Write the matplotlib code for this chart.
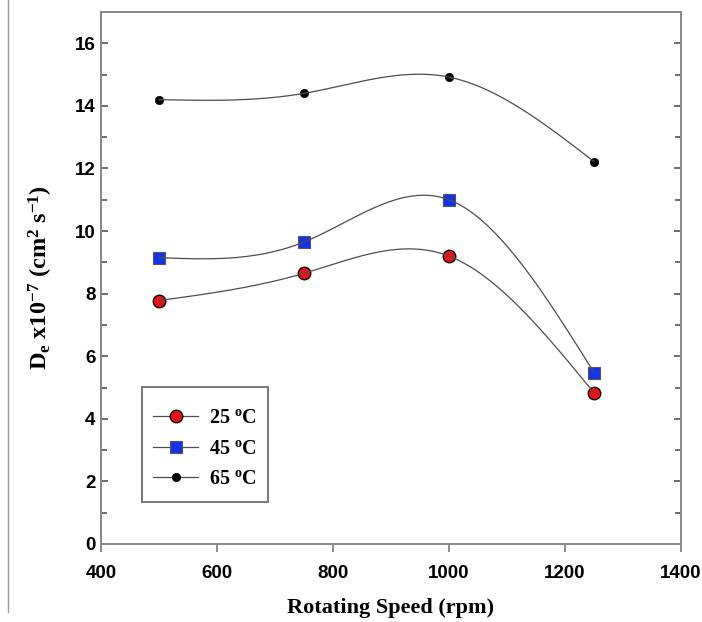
import numpy as np
import matplotlib
matplotlib.use("Agg")
import matplotlib.pyplot as plt
from matplotlib.lines import Line2D
from matplotlib.patches import Rectangle

speed = [500, 750, 1000, 1250]
de_25 = [7.78, 8.65, 9.2, 4.83]
de_45 = [9.15, 9.65, 11.0, 5.48]
de_65 = [14.2, 14.4, 14.92, 12.22]
labels = ["25 $^{\\mathregular{o}}$C", "45 $^{\\mathregular{o}}$C", "65 $^{\\mathregular{o}}$C"]
xticks = [400, 600, 800, 1000, 1200, 1400]
yticks = [0, 2, 4, 6, 8, 10, 12, 14, 16]

plt.rcParams['mathtext.fontset'] = 'custom'
plt.rcParams['mathtext.rm'] = 'Liberation Serif:bold'
plt.rcParams['mathtext.bf'] = 'Liberation Serif:bold'
plt.rcParams['mathtext.it'] = 'Liberation Serif:bold:italic'


def natural_spline(x, y, n=300):
    x = np.asarray(x, float); y = np.asarray(y, float)
    k = len(x)
    h = np.diff(x)
    A = np.zeros((k, k)); b = np.zeros(k)
    A[0, 0] = 1; A[-1, -1] = 1
    for i in range(1, k - 1):
        A[i, i - 1] = h[i - 1]
        A[i, i] = 2 * (h[i - 1] + h[i])
        A[i, i + 1] = h[i]
        b[i] = 3 * ((y[i + 1] - y[i]) / h[i] - (y[i] - y[i - 1]) / h[i - 1])
    c = np.linalg.solve(A, b)
    xs = np.linspace(x[0], x[-1], n)
    ys = np.empty_like(xs)
    for j, xv in enumerate(xs):
        i = min(np.searchsorted(x, xv, side='right') - 1, k - 2)
        i = max(i, 0)
        bi = (y[i + 1] - y[i]) / h[i] - h[i] * (2 * c[i] + c[i + 1]) / 3
        di = (c[i + 1] - c[i]) / (3 * h[i])
        dx = xv - x[i]
        ys[j] = y[i] + bi * dx + c[i] * dx ** 2 + di * dx ** 3
    return xs, ys


fig = plt.figure(figsize=(7.02, 6.22), dpi=100)
ax = fig.add_axes([101 / 702, 1 - 544 / 622, 580 / 702, 532 / 622])

line_color = '#4d4d4d'
styles = [
    dict(marker='o', color='#ee1111', mec='black', ms=9, mew=1.0),
    dict(marker='s', color='#1133ee', mec='#555555', ms=9, mew=0.8),
    dict(marker='o', color='black', mec='black', ms=6, mew=0.5),
]
series = [de_25, de_45, de_65]
handles = []
for ys, st, lab in zip(series, styles, labels):
    xs_s, ys_s = natural_spline(speed, ys)
    ax.plot(speed, ys, linestyle='none', marker=st['marker'], mfc=st['color'],
            mec=st['mec'], ms=st['ms'], mew=st['mew'], zorder=3)
    ax.plot(xs_s, ys_s, color=line_color, lw=0.9, zorder=4)
    handles.append(Line2D([], [], color=line_color, lw=0.9, marker=st['marker'],
                          mfc=st['color'], mec=st['mec'], ms=st['ms'], mew=st['mew']))

ax.set_xlim(400, 1400)
ax.set_ylim(0, 17)
ax.set_xticks(xticks)
ax.set_yticks(yticks)
ax.set_yticks(np.arange(1, 17, 2), minor=True)
for lab in ax.get_xticklabels() + ax.get_yticklabels():
    lab.set_fontfamily('Liberation Sans')
    lab.set_fontweight('bold')
    lab.set_fontsize(13.5)
ax.tick_params(axis='x', direction='out', length=6, width=1.2, color='#777777', pad=9)
ax.tick_params(axis='y', which='both', direction='in', length=5, width=1.2, color='#555555',
               right=True, pad=4)
ax.tick_params(axis='y', which='minor', length=4)
for sp in ax.spines.values():
    sp.set_color('#888888')
    sp.set_linewidth(1.4)

ax.set_xlabel('Rotating Speed (rpm)', fontfamily='Liberation Serif', fontweight='bold',
              fontsize=16, labelpad=12)
ax.set_ylabel('D$_{\\mathregular{e}}$ x10$^{\\mathregular{-7}}$ (cm$^{\\mathregular{2}}$ s$^{\\mathregular{-1}}$)',
              fontfamily='Liberation Serif', fontweight='bold', fontsize=17.5, labelpad=14)

leg = ax.legend(handles, labels, loc='upper left', bbox_to_anchor=(0.0897, 0.255),
                borderaxespad=0, borderpad=0, frameon=False, handlelength=2.25,
                handletextpad=0.55, labelspacing=0.52,
                prop={'family': 'Liberation Serif', 'weight': 'bold', 'size': 14.5})
ax.add_patch(Rectangle((0.0707, 0.079), 0.217, 0.216, transform=ax.transAxes,
                       fill=False, edgecolor='#777777', lw=1.4, zorder=5))

fig.add_artist(Line2D([7.5 / 702, 7.5 / 702], [1 - 612 / 622, 1.0], color='#999999', lw=1.0))

fig.savefig('out.png', dpi=100)
